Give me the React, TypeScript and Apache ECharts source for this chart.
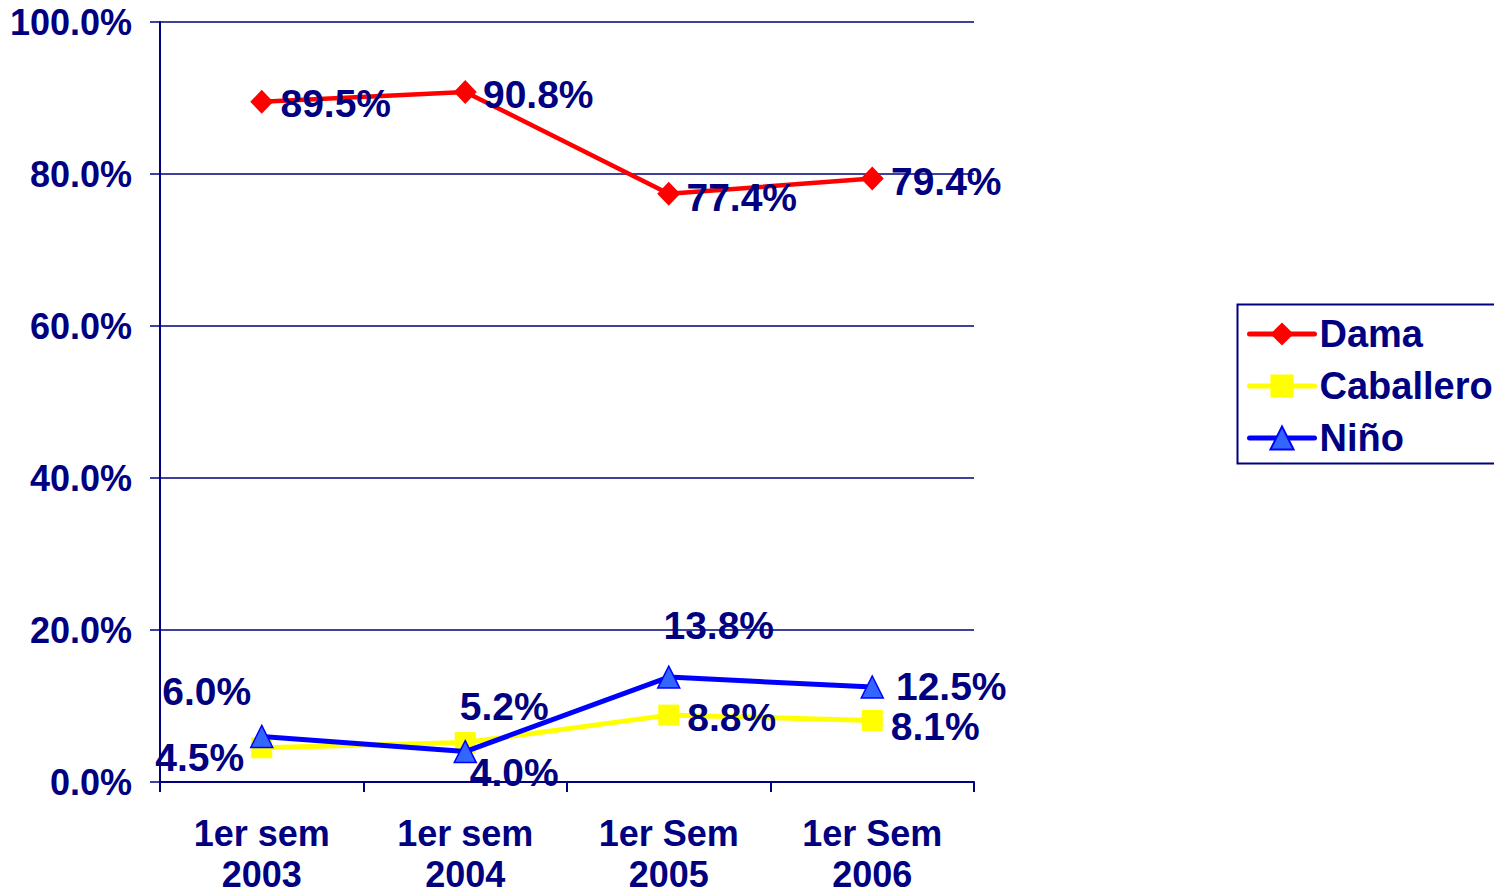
import React, { useEffect, useRef } from "react";
import * as echarts from "echarts";

const categories = ["1er sem\n2003", "1er sem\n2004", "1er Sem\n2005", "1er Sem\n2006"];
const damaValues = [89.5, 90.8, 77.4, 79.4];
const caballeroValues = [4.5, 5.2, 8.8, 8.1];
const ninoValues = [6.0, 4.0, 13.8, 12.5];

const damaOffsets = [[74, 2], [73, 3], [73, 4], [74, 3]];
const caballeroOffsets = [[-62, 10], [39, -36], [63, 2], [63, 6]];
const ninoOffsets = [[-55, -45], [49, 21], [50, -52], [79, -1]];

const NAVY = "#000080";
const FONT = "Liberation Sans, Arial, sans-serif";

function withLabels(values: number[], offsets: number[][]) {
  return values.map((v, i) => ({
    value: v,
    label: { offset: offsets[i] },
  }));
}

const labelStyle = {
  show: true,
  position: "inside",
  align: "center",
  verticalAlign: "middle",
  color: NAVY,
  fontWeight: "bold",
  fontSize: 39,
  lineHeight: 30,
  fontFamily: FONT,
  formatter: (p: any) => Number(p.value).toFixed(1) + "%",
};

const catTextStyle = {
  color: NAVY,
  fontWeight: "bold",
  fontSize: 36,
  fontFamily: FONT,
};

export default function App() {
  const ref = useRef<HTMLDivElement>(null);
  useEffect(() => {
    if (!ref.current) return;
    const chart = echarts.init(ref.current, undefined, { renderer: "svg" });
    chart.setOption({
      animation: false,
      backgroundColor: "#ffffff",
      grid: { left: 160, width: 814, top: 22, height: 760, containLabel: false },
      xAxis: {
        type: "category",
        data: categories,
        boundaryGap: true,
        axisLine: { lineStyle: { color: NAVY, width: 2 } },
        axisTick: { show: true, length: 10, interval: 0, lineStyle: { color: NAVY, width: 2 } },
        axisLabel: {
          ...catTextStyle,
          margin: 27.5,
          interval: 0,
          formatter: (v: string) => {
            const parts = v.split("\n");
            return "{a|" + parts[0] + "}\n{b|" + parts[1] + "}";
          },
          rich: {
            a: { ...catTextStyle, lineHeight: 47 },
            b: { ...catTextStyle, lineHeight: 36 },
          },
        },
      },
      yAxis: {
        type: "value",
        min: 0,
        max: 100,
        interval: 20,
        axisLine: { show: true, lineStyle: { color: NAVY, width: 2 } },
        axisTick: { show: true, length: 10, lineStyle: { color: NAVY, width: 1.5 } },
        splitLine: { show: true, lineStyle: { color: NAVY, width: 1.5 } },
        axisLabel: {
          color: NAVY,
          fontWeight: "bold",
          fontSize: 36,
          fontFamily: FONT,
          margin: 28,
          formatter: (v: number) => v.toFixed(1) + "%",
        },
      },
      legend: {
        left: 1247,
        top: 312,
        orient: "vertical",
        padding: 0,
        itemWidth: 65,
        itemHeight: 29,
        itemGap: 8,
        lineStyle: { width: 5, cap: "round" },
        textStyle: {
          color: NAVY,
          fontWeight: "bold",
          fontSize: 38,
          fontFamily: FONT,
          lineHeight: 44,
        },
        data: ["Dama", "Caballero", "Niño"],
      },
      graphic: [
        {
          type: "rect",
          shape: { x: 1237.5, y: 304.5, width: 300, height: 159 },
          style: { fill: "none", stroke: NAVY, lineWidth: 2 },
          silent: true,
        },
      ],
      series: [
        {
          name: "Dama",
          type: "line",
          data: withLabels(damaValues, damaOffsets),
          symbol: "diamond",
          symbolSize: [23, 24],
          lineStyle: { color: "#ff0000", width: 4.5 },
          itemStyle: { color: "#ff0000" },
          label: labelStyle,
          z: 2,
        },
        {
          name: "Caballero",
          type: "line",
          data: withLabels(caballeroValues, caballeroOffsets),
          symbol: "rect",
          symbolSize: 21,
          lineStyle: { color: "#ffff00", width: 5 },
          itemStyle: { color: "#ffff00" },
          label: labelStyle,
          z: 3,
        },
        {
          name: "Niño",
          type: "line",
          data: withLabels(ninoValues, ninoOffsets),
          symbol: "triangle",
          symbolSize: 22,
          lineStyle: { color: "#0000ff", width: 5 },
          itemStyle: { color: "#3366ff", borderColor: "#0000ff", borderWidth: 1.5 },
          label: labelStyle,
          z: 4,
        },
      ],
    });
    return () => chart.dispose();
  }, []);
  return (
    <div
      ref={ref}
      style={{ position: "fixed", left: 0, top: 0, width: 1494, height: 894, background: "#fff" }}
    />
  );
}
